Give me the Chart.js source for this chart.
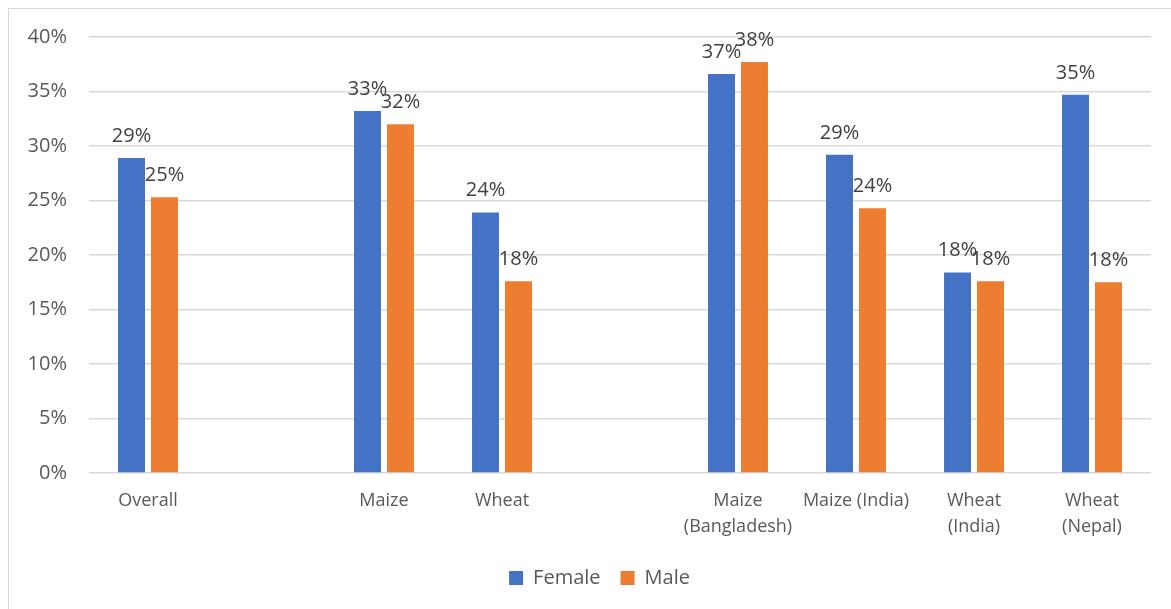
<!DOCTYPE html>
<html>
<head>
<meta charset="utf-8">
<script src="https://cdn.jsdelivr.net/npm/chart.js@4/dist/chart.umd.min.js"></script>
<style>
  html, body { margin: 0; padding: 0; background: #fff; overflow: hidden; }
  #wrap { position: relative; width: 1171px; height: 609px; }
  #frame { position: absolute; left: 8px; top: 8px; width: 1300px; height: 800px; border: 1.5px solid #d9d9d9; box-sizing: border-box; }
  canvas { position: absolute; left: 0; top: 0; }
</style>
</head>
<body>
<div id="wrap">
  <div id="frame"></div>
  <canvas id="c" width="1171" height="609"></canvas>
</div>
<script>
const categories = ["Overall", "", "Maize", "Wheat", "", ["Maize", "(Bangladesh)"], "Maize (India)", ["Wheat", "(India)"], ["Wheat", "(Nepal)"]];
const femaleValues = [28.9, null, 33.2, 23.9, null, 36.6, 29.2, 18.4, 34.7];
const maleValues = [25.3, null, 32.0, 17.6, null, 37.7, 24.3, 17.6, 17.5];
const seriesNames = ["Female", "Male"];
const seriesColors = ["#4472C4", "#ED7D31"];
const yMin = 0, yMax = 40, yStep = 5;

const FONT = "'Open Sans', 'DejaVu Sans', sans-serif";

const valueLabels = {
  id: 'valueLabels',
  afterLayout(chart) {
    if (chart.legend) { chart.legend.left += 24; chart.legend.right += 24; }
  },
  afterDatasetsDraw(chart) {
    const ctx = chart.ctx;
    ctx.save();
    ctx.font = "20px " + FONT;
    ctx.fillStyle = "#404040";
    ctx.textAlign = "center";
    ctx.textBaseline = "alphabetic";
    chart.data.datasets.forEach((ds, di) => {
      const meta = chart.getDatasetMeta(di);
      meta.data.forEach((bar, i) => {
        const v = ds.data[i];
        if (v === null || v === undefined) return;
        ctx.fillText(Math.round(v) + "%", bar.x, bar.y - 16);
      });
    });
    ctx.restore();
  }
};

new Chart(document.getElementById('c'), {
  type: 'bar',
  data: {
    labels: categories,
    datasets: [
      { label: seriesNames[0], data: femaleValues, backgroundColor: seriesColors[0], borderWidth: 0 },
      { label: seriesNames[1], data: maleValues, backgroundColor: seriesColors[1], borderWidth: 0 }
    ]
  },
  options: {
    responsive: false,
    animation: false,
    devicePixelRatio: 1,
    datasets: { bar: { categoryPercentage: 0.559, barPercentage: 0.818 } },
    layout: { padding: { left: 0, right: 20, top: 37, bottom: 11 } },
    plugins: {
      legend: {
        position: 'bottom',
        labels: {
          boxWidth: 14, boxHeight: 14, padding: 20,
          color: '#595959',
          font: { family: FONT, size: 20 }
        }
      },
      tooltip: { enabled: false }
    },
    scales: {
      x: {
        grid: { display: false },
        border: { display: false },
        ticks: {
          color: '#595959',
          padding: 7,
          maxRotation: 0,
          autoSkip: false,
          font: { family: FONT, size: 18, lineHeight: 1.45 }
        },
        afterFit(scale) { scale.height = 75; }
      },
      y: {
        min: yMin, max: yMax,
        grid: { color: '#d9d9d9', lineWidth: 1.5, drawTicks: false },
        border: { display: false },
        ticks: {
          stepSize: yStep,
          color: '#595959',
          padding: 22,
          font: { family: FONT, size: 20 },
          callback: v => v + '%'
        },
        afterFit(scale) { scale.width = 89; }
      }
    }
  },
  plugins: [valueLabels]
});
</script>
</body>
</html>
